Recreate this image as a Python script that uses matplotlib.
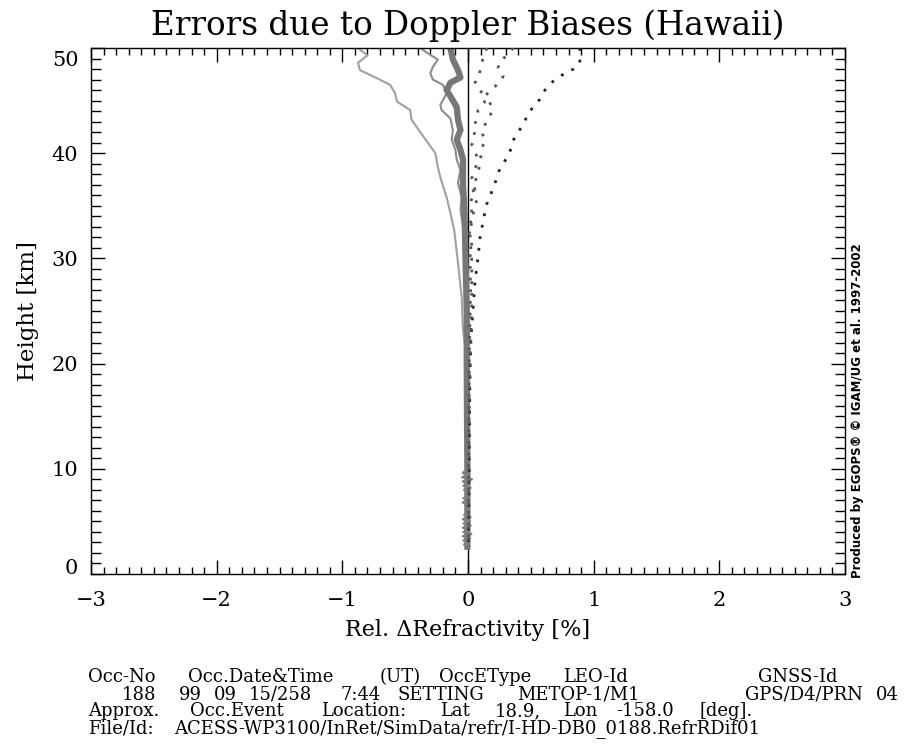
"""Errors due to Doppler biases (Hawaii): relative refractivity error profiles."""

import matplotlib
matplotlib.use("Agg")
import matplotlib.pyplot as plt
import matplotlib.transforms as mtransforms
from matplotlib.ticker import MultipleLocator

# ---- data ---------------------------------------------------------------------
# thin light-gray solid profile (largest negative bias)
h_thin1 = [50, 49.3, 48.6, 47.9, 47.1, 46.5, 45.7, 44.9, 44.1, 43.2, 42.0, 41.0,
           40.0, 38.7, 37.7, 35.8, 34.3, 32.7, 31.7, 29.6, 26.3, 23.2, 21.5, 20,
           15, 10, 5, 2.6]
x_thin1 = [-0.875, -0.80, -0.875, -0.86, -0.72, -0.62, -0.58, -0.565, -0.46, -0.45,
           -0.38, -0.32, -0.26, -0.24, -0.22, -0.17, -0.14, -0.11, -0.10, -0.08,
           -0.05, -0.04, -0.02, -0.01, -0.01, -0.01, -0.01, -0.01]

# thin medium-gray solid profile
h_thin2 = [50, 49.5, 48.9, 48.2, 47.6, 47.0, 46.5, 45.7, 44.6, 44.1, 43.3, 42.2,
           41.3, 40.3, 39.4, 38.4, 37.2, 35.8, 34.6, 33.0, 30.0, 25, 20, 10, 2.6]
x_thin2 = [-0.38, -0.32, -0.24, -0.28, -0.30, -0.28, -0.20, -0.17, -0.22, -0.21,
           -0.14, -0.12, -0.13, -0.10, -0.09, -0.06, -0.08, -0.05, -0.06, -0.04,
           -0.03, -0.02, -0.01, -0.01, -0.01]

# thick gray solid profile
h_thick = [50, 48.9, 47.9, 47.2, 46.7, 46.0, 45.2, 44.4, 43.2, 42.2, 41.3, 40.3,
           39.4, 37, 35, 33, 30, 25, 20, 15, 10, 5, 2.6]
x_thick = [-0.14, -0.12, -0.08, -0.06, -0.14, -0.17, -0.13, -0.09, -0.08, -0.06,
           -0.09, -0.06, -0.04, -0.04, -0.03, -0.025, -0.02, -0.01, -0.01, -0.008,
           -0.005, -0.005, -0.005]

# near-surface jitter of the thick profile
h_low = [10.0, 9.6, 9.4, 9.2, 9.0, 8.8, 8.6, 8.4, 8.2, 8.0, 7.8, 7.6, 7.4, 7.2,
         7.0, 6.8, 6.6, 6.4, 6.2, 6.0, 5.8, 5.6, 5.4, 5.2, 5.0, 4.8, 4.6, 4.4,
         4.2, 4.0, 3.8, 3.6, 3.4, 3.2, 3.0, 2.8, 2.6]
x_low = [-0.005, -0.04, 0.01, -0.045, 0.03, -0.04, 0.005, -0.035, 0.02, -0.03,
         -0.005, -0.01, 0.0, -0.035, 0.01, -0.04, -0.005, 0.0, -0.01, 0.0,
         -0.005, -0.03, 0.02, -0.04, 0.015, -0.035, 0.02, -0.04, 0.01, -0.035,
         0.025, -0.04, 0.015, -0.035, 0.01, -0.03, -0.005]

# dotted profiles (positive bias)
h_dot1 = [50, 48.6, 48.0, 47.6, 47.1, 46.6, 45.8, 45.1, 44.4, 43.8, 43.0, 42.2,
          41.5, 40.8, 40.0, 39.2, 38.4, 37.6, 36.8, 36.0, 35.2, 34.4, 33.5, 31.9,
          30.1, 27.7, 25.1, 22.5, 19.4, 16.8, 12, 8, 5, 2.6]
x_dot1 = [0.89, 0.89, 0.84, 0.77, 0.71, 0.65, 0.60, 0.57, 0.52, 0.48, 0.45, 0.41,
          0.37, 0.35, 0.33, 0.29, 0.25, 0.23, 0.20, 0.18, 0.15, 0.135, 0.12, 0.095,
          0.08, 0.055, 0.04, 0.024, 0.016, 0.014, 0.01, 0.008, 0.005, 0.003]

h_dot2 = [50, 49.3, 48.7, 48.1, 47.3, 46.7, 46.1, 45.5, 44.9, 44.1, 43.3, 42.7,
          41.9, 41.3, 40.5, 38.9, 37.2, 36.5, 35.6, 33.7, 32.0, 29.8, 26.3, 23.2,
          20.6, 15, 10, 5, 2.6]
x_dot2 = [0.36, 0.31, 0.25, 0.24, 0.28, 0.25, 0.19, 0.14, 0.17, 0.20, 0.16, 0.135,
          0.11, 0.14, 0.11, 0.095, 0.056, 0.04, 0.07, 0.03, 0.016, 0.03, 0.03,
          0.024, 0.016, 0.01, 0.008, 0.005, 0.003]

h_dot3 = [50, 49.0, 48.2, 47.4, 46.7, 46.0, 45.5, 44.8, 44.1, 43.2, 42.4, 41.6,
          40.8, 39.7, 39.0, 37.6, 36.5, 35.2, 33.9, 33.0, 31.5, 30.1, 27, 24, 20,
          15, 10, 5, 2.6]
x_dot3 = [0.15, 0.12, 0.10, 0.09, 0.056, 0.09, 0.135, 0.13, 0.08, 0.07, 0.04,
          0.056, 0.03, 0.07, 0.07, 0.03, 0.056, 0.016, 0.04, 0.0, 0.03, 0.016,
          0.02, 0.015, 0.01, 0.008, 0.005, 0.004, 0.003]

# footer pieces: (text, left pixel, right pixel or None, baseline pixel)
footer = [
    ("Occ-No  Occ.Date&Time (UT) OccEType LEO-Id", 88, 645, 682.5),
    ("GNSS-Id", 758, None, 682.5),
    ("188  99 09 15/258  7:44 SETTING  METOP-1/M1", 122, 668, 699.5),
    ("GPS/D4/PRN 04", 745, 900, 699.5),
    ("Approx. Occ.Event Location: Lat  18.9, Lon -158.0 [deg].", 88, 770, 716.5),
    ("File/Id: ACESS-WP3100/InRet/SimData/refr/I-HD-DB0_0188.RefrRDif01", 88, 885, 733.5),
]


def main():
    W, H = 923, 756
    plt.rcParams["font.family"] = ["DejaVu Serif", "DejaVu Sans"]
    fig = plt.figure(figsize=(W / 100, H / 100), dpi=100)
    ax = fig.add_axes([91 / W, 1 - 574 / H, (845 - 91) / W, (574 - 48) / H])

    ax.axvline(0, color="black", lw=1.0, zorder=1)

    dot_style = (0, (1, 3.2))
    ax.plot(x_dot1, h_dot1, color="#222222", lw=2.0, ls=dot_style, zorder=3)
    ax.plot(x_dot2, h_dot2, color="#555555", lw=2.0, ls=dot_style, zorder=3)
    ax.plot(x_dot3, h_dot3, color="#555555", lw=2.0, ls=dot_style, zorder=3)

    ax.plot(x_thin1, h_thin1, color="#a0a0a0", lw=1.5, zorder=2,
            solid_joinstyle="round")
    ax.plot(x_thin2, h_thin2, color="#8c8c8c", lw=1.5, zorder=2,
            solid_joinstyle="round")
    ax.plot(x_thick, h_thick, color="#777777", lw=4.5, zorder=2,
            solid_joinstyle="round")
    ax.plot(x_low, h_low, color="#808080", lw=1.8, zorder=2)

    ax.set_xlim(-3, 3)
    ax.set_ylim(0, 50)
    ax.xaxis.set_major_locator(MultipleLocator(1))
    ax.xaxis.set_minor_locator(MultipleLocator(0.1))
    ax.yaxis.set_major_locator(MultipleLocator(10))
    ax.yaxis.set_minor_locator(MultipleLocator(1))
    ax.tick_params(which="both", direction="in", top=True, right=True,
                   width=1, labelsize=15)
    ax.tick_params(axis="x", which="major", length=10, pad=12)
    ax.tick_params(axis="x", which="minor", length=5)
    ax.tick_params(axis="y", which="major", length=10, pad=9)
    ax.tick_params(axis="y", which="minor", length=7)
    for sp in ax.spines.values():
        sp.set_linewidth(1.0)

    ax.set_xlabel("Rel. \u0394Refractivity [%]", fontsize=16, labelpad=7)
    ax.set_ylabel("Height [km]", fontsize=16.5, labelpad=9)
    fig.text(468 / W, 1 - 35 / H, "Errors due to Doppler Biases (Hawaii)",
             fontsize=23.5, ha="center", va="baseline")

    fig.text(857 / W, 1 - 578 / H,
             "Produced by EGOPS\u00ae \u00a9 IGAM/UG et al. 1997-2002",
             family="DejaVu Sans", fontsize=8.5, fontweight="bold",
             rotation=90, ha="center", va="bottom")

    fig.canvas.draw()
    renderer = fig.canvas.get_renderer()

    # end labels of the height axis sit a little inside the frame
    for tick in ax.yaxis.get_major_ticks():
        loc = tick.get_loc()
        if loc == 50:
            dy = -0.10
        elif loc == 0:
            dy = 0.07
        else:
            continue
        lbl = tick.label1
        lbl.set_transform(lbl.get_transform() +
                          mtransforms.ScaledTranslation(0, dy, fig.dpi_scale_trans))

    # footer: words laid out at natural offsets, stretched to the reference width
    fs = 13

    t = fig.text(0, 0, "|", fontsize=fs)
    bar_w = t.get_window_extent(renderer).width
    t.remove()

    def width(s):
        t = fig.text(0, 0, s + "|", fontsize=fs)
        w = t.get_window_extent(renderer).width
        t.remove()
        return w - bar_w

    for line, x0, x1, base in footer:
        words = line.split(" ")
        total = width(line)
        k = 1.0 if x1 is None else max(1.0, (x1 - x0) / total)
        for i, w in enumerate(words):
            if w:
                off = width(" ".join(words[:i]) + (" " if i else ""))
                fig.text((x0 + off * k) / W, 1 - base / H, w, fontsize=fs,
                         ha="left", va="baseline")

    fig.savefig("out.png", dpi=100)


if __name__ == "__main__":
    main()
